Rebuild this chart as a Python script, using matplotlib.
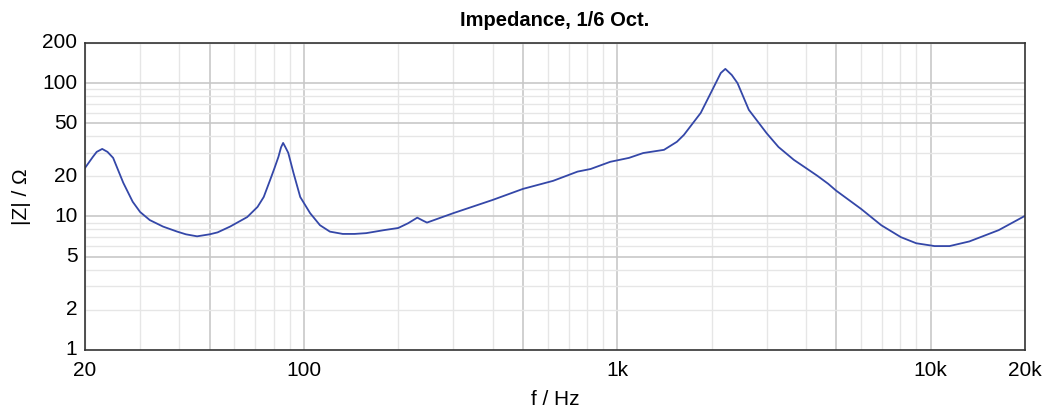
import matplotlib.pyplot as plt
import matplotlib.ticker as mt

# Dados (Hz, Ohm)
freq = [20, 21.2, 21.8, 22.7, 23.6, 24.6, 26.5, 28.4, 30, 32.2, 35.5, 39.4, 42, 45.6, 50, 53,
        58.1, 65.9, 71.1, 74.4, 78, 80.5, 82.9, 84.5, 85.8, 87.3, 89.1, 92.6, 97.3, 104.6,
        112.5, 121, 133, 145, 158, 180, 200, 215, 230, 240, 247, 300, 400, 500,
        624, 747, 822, 950, 1090, 1210, 1410, 1550, 1632, 1847, 2011, 2140,
        2213, 2320, 2420, 2630, 2835, 3000, 3270, 3660, 4000, 4350, 4710, 5000, 6000,
        6960, 8040, 9000, 10300, 11500, 13300, 16500, 20000]
imped = [23.1, 28.0, 30.5, 32.1, 30.5, 27.5, 17.9, 12.9, 10.8, 9.4, 8.4, 7.7, 7.35, 7.1, 7.35, 7.6,
         8.4, 9.9, 11.8, 14.0, 18.8, 23.0, 28.0, 33.0, 35.6, 33.0, 30.0, 21.2, 14.0, 10.6,
         8.6, 7.7, 7.4, 7.4, 7.5, 7.9, 8.2, 8.9, 9.8, 9.3, 9.0, 10.6, 13.3, 16.1,
         18.5, 21.7, 22.7, 25.7, 27.5, 29.9, 31.6, 36.3, 40.9, 59.8, 88.9, 119.0,
         127.8, 115.0, 100.0, 63.0, 50.0, 42.0, 33.2, 26.6, 23.1, 20.2, 17.6, 15.6, 11.4,
         8.6, 7.0, 6.3, 6.0, 6.0, 6.5, 7.9, 10.1]

xticks = [20, 100, 1000, 10000, 20000]
xlabels = ["20", "100", "1k", "10k", "20k"]
yticks = [1, 2, 5, 10, 20, 50, 100, 200]

plt.rcParams['font.family'] = ['Liberation Sans', 'DejaVu Sans']

fig = plt.figure(figsize=(10.49, 4.17), dpi=100)
ax = fig.add_axes([0.081, 0.161, 0.896, 0.736])

ax.plot(freq, imped, color='#3447a8', linewidth=1.3)

ax.set_xscale('log')
ax.set_yscale('log')
ax.set_xlim(20, 20000)
ax.set_ylim(1, 200)

# grade: linhas principais em 1-5-10, secundárias nas demais
ax.grid(True, which='minor', color='#e6e6e6', linewidth=1.0)
ax.grid(True, which='major', color='#c8c8c8', linewidth=1.2)
ax.set_axisbelow(True)

ax.xaxis.set_major_locator(mt.FixedLocator([50, 100, 500, 1000, 5000, 10000]))
ax.xaxis.set_minor_locator(mt.LogLocator(base=10, subs=range(1, 10), numticks=20))
ax.yaxis.set_major_locator(mt.FixedLocator([5, 10, 50, 100]))
ax.yaxis.set_minor_locator(mt.LogLocator(base=10, subs=range(1, 10), numticks=20))
ax.xaxis.set_major_formatter(mt.NullFormatter())
ax.xaxis.set_minor_formatter(mt.NullFormatter())
ax.yaxis.set_major_formatter(mt.NullFormatter())
ax.yaxis.set_minor_formatter(mt.NullFormatter())
ax.tick_params(which='both', length=0)

# rótulos dos eixos como texto
for x, lab in zip(xticks, xlabels):
    ax.text(x, -0.035, lab, transform=ax.get_xaxis_transform(), ha='center', va='top', fontsize=15)
for y in yticks:
    ax.text(-0.008, y, str(y), transform=ax.get_yaxis_transform(), ha='right', va='center', fontsize=15)

ax.text(0.5, -0.13, "f / Hz", transform=ax.transAxes, ha='center', va='top', fontsize=15)
ax.text(-0.068, 0.5, "|Z| / Ω", transform=ax.transAxes, ha='center', va='center', rotation=90, fontsize=15)
ax.set_title("Impedance, 1/6 Oct.", fontweight='bold', fontsize=14.5, pad=12)

for s in ax.spines.values():
    s.set_color('#333333')
    s.set_linewidth(1.2)

fig.savefig('out.png', dpi=100)
